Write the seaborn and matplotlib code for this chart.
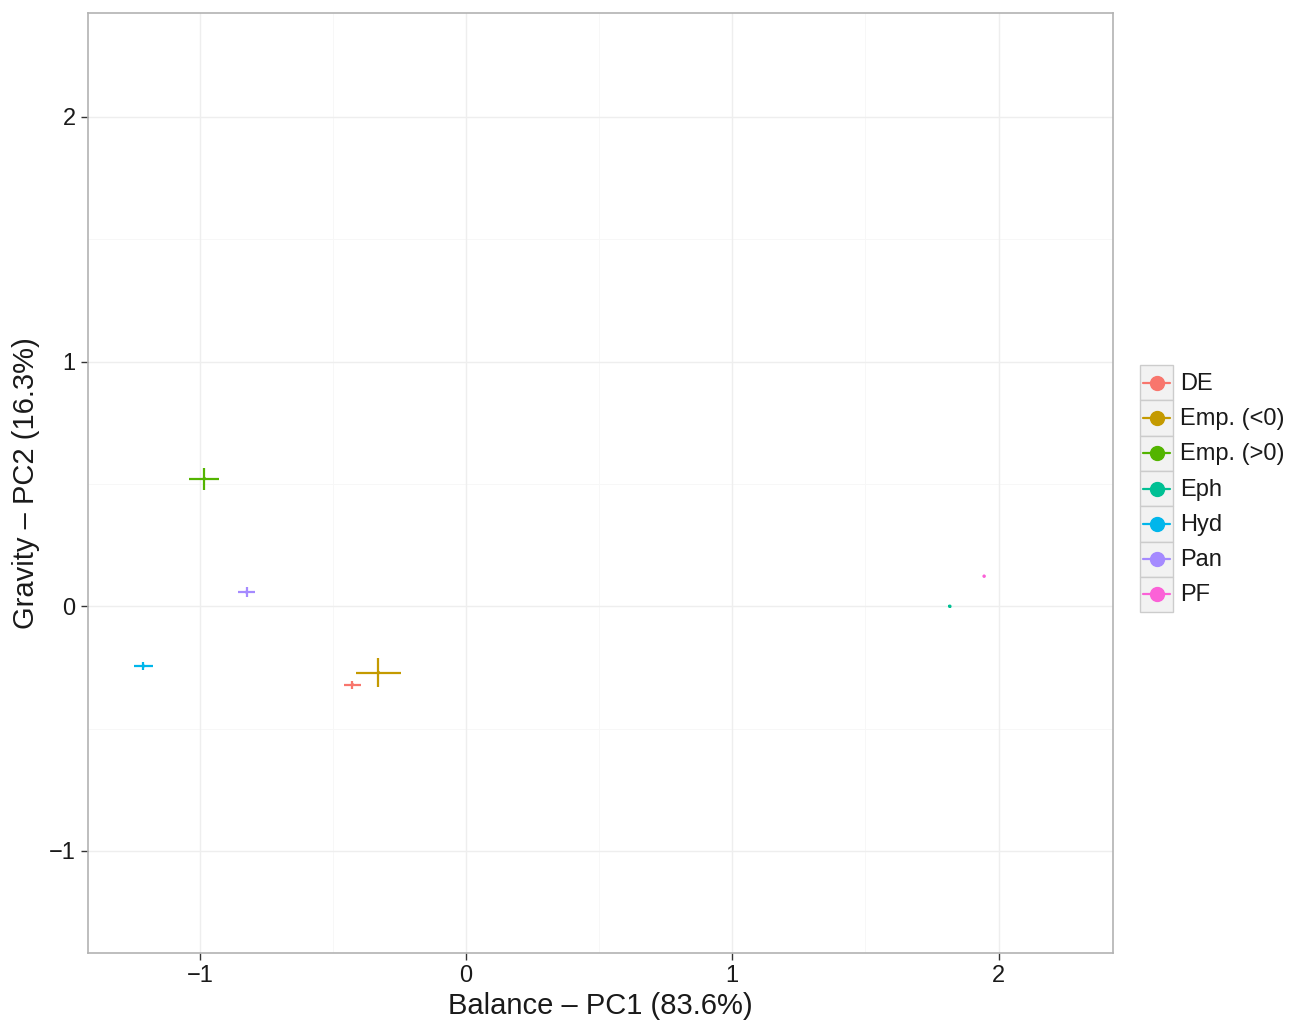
import pandas as pd
import matplotlib.pyplot as plt
import seaborn as sns
from matplotlib.patches import Rectangle
from matplotlib.lines import Line2D

# Data (group means with +/- spread)
groups = ['DE', 'Emp. (<0)', 'Emp. (>0)', 'Eph', 'Hyd', 'Pan', 'PF']
pc1 = [-0.427, -0.329, -0.983, 1.817, -1.212, -0.824, 1.946]
pc2 = [-0.320, -0.271, 0.522, 0.000, -0.244, 0.058, 0.123]
pc1_err = [0.033, 0.084, 0.056, 0.006, 0.037, 0.031, 0.005]
pc2_err = [0.016, 0.058, 0.045, 0.006, 0.017, 0.020, 0.005]
colors = ['#F8766D', '#C49A00', '#53B400', '#00C094', '#00B6EB', '#A58AFF', '#FB61D7']

df = pd.DataFrame({'group': groups, 'pc1': pc1, 'pc2': pc2,
                   'pc1_err': pc1_err, 'pc2_err': pc2_err})
palette = dict(zip(groups, colors))

sns.set_style('white')
plt.rcParams['font.family'] = ['Liberation Sans', 'DejaVu Sans']

fig = plt.figure(figsize=(13.02, 10.24), dpi=100)
ax = fig.add_axes([88 / 1302, 1 - 953 / 1024, (1113 - 88) / 1302, (953 - 13) / 1024])

# grid like theme_bw
for v in [-1.5, -0.5, 0.5, 1.5]:
    ax.axvline(v, color='#f7f7f7', lw=0.7, zorder=0)
    ax.axhline(v, color='#f7f7f7', lw=0.7, zorder=0)
for v in [-1, 0, 1, 2]:
    ax.axvline(v, color='#eeeeee', lw=1.0, zorder=0)
    ax.axhline(v, color='#eeeeee', lw=1.0, zorder=0)

for _, r in df.iterrows():
    ax.errorbar(r['pc1'], r['pc2'], xerr=r['pc1_err'], yerr=r['pc2_err'],
                fmt='none', ecolor=palette[r['group']], elinewidth=1.6, capsize=0, zorder=3)
sns.scatterplot(data=df, x='pc1', y='pc2', hue='group', palette=palette,
                s=6, linewidth=0, legend=False, ax=ax, zorder=4)

ax.set_xlim(-1.42, 2.43)
ax.set_ylim(-1.417, 2.425)
ax.set_xticks([-1, 0, 1, 2])
ax.set_yticks([-1, 0, 1, 2])
ax.set_xticklabels(['\u22121', '0', '1', '2'])
ax.set_yticklabels(['\u22121', '0', '1', '2'])
ax.tick_params(axis='both', labelsize=17, colors='#333333', length=5, width=1,
               direction='out', bottom=True, left=True, labelcolor='#1a1a1a', pad=4)
for s in ax.spines.values():
    s.set_color('#b3b3b3')
    s.set_linewidth(1.2)
ax.set_xlabel('Balance \u2013 PC1 (83.6%)', fontsize=21, labelpad=3, color='#1a1a1a')
ax.set_ylabel('Gravity \u2013 PC2 (16.3%)', fontsize=21, labelpad=6, color='#1a1a1a')

# legend drawn as ggplot-style keys
leg = fig.add_axes([0, 0, 1, 1])
leg.set_xlim(0, 1302)
leg.set_ylim(1024, 0)
leg.axis('off')
top = 365
h = 35.3
for i, (g, c) in enumerate(zip(groups, colors)):
    y0 = top + i * h
    leg.add_patch(Rectangle((1140, y0), 33, h, facecolor='#f2f2f2',
                            edgecolor='#cccccc', lw=1))
    leg.add_line(Line2D([1143, 1170], [y0 + h / 2] * 2, color=c, lw=1.6))
    leg.plot(1156.5, y0 + h / 2, 'o', color=c, ms=10)
    leg.text(1180, y0 + h / 2 + 1, g, fontsize=17, va='center', ha='left', color='#1a1a1a')

fig.savefig('out.png', dpi=100)
